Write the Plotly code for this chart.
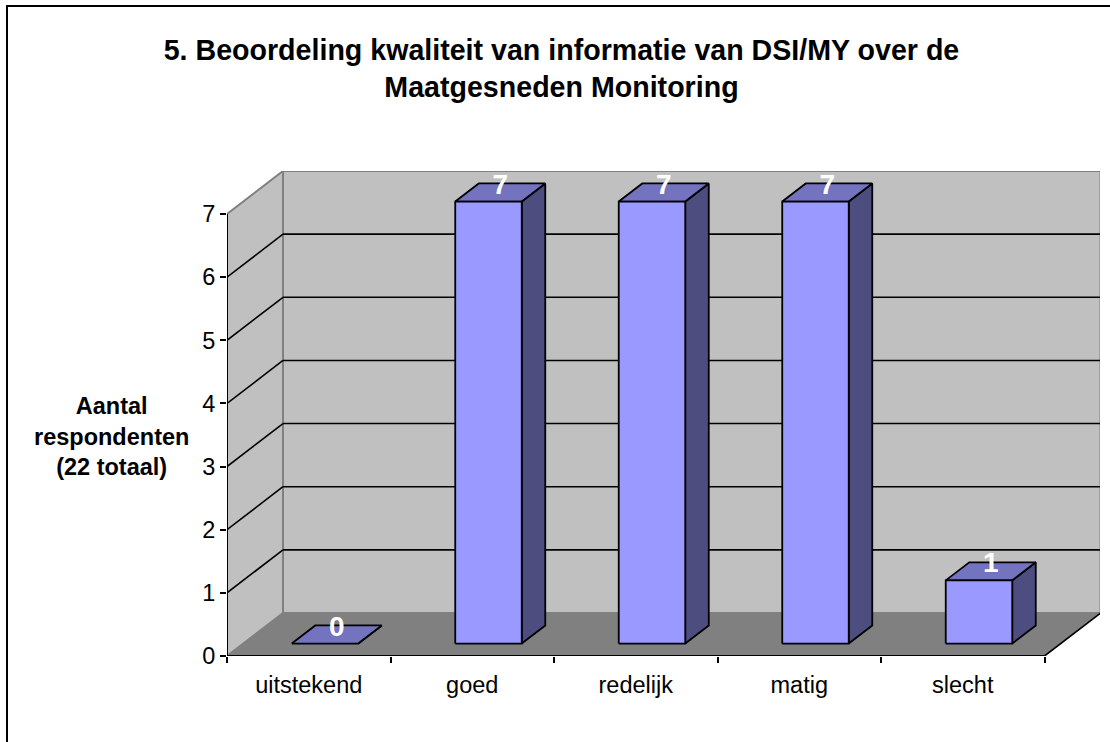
import plotly.graph_objects as go

categories = ["uitstekend", "goed", "redelijk", "matig", "slecht"]
values = [0, 7, 7, 7, 1]
y_ticks = [0, 1, 2, 3, 4, 5, 6, 7]
title_text = "5. Beoordeling kwaliteit van informatie van DSI/MY over de<br>Maatgesneden Monitoring"
axis_title = ["Aantal", "respondenten", "(22 totaal)"]

W, H = 1110, 742
L, R, T, B = 227, 1100, 171, 656
PX_X = (1044.5 - L) / 5
PX_Y = (B - 214) / 7
DX, DY = 56 / PX_X, 43 / PX_Y          # depth of the box in data units
XMIN, XMAX = -0.5, -0.5 + (R - L) / PX_X
YMIN, YMAX = 0, (B - T) / PX_Y
BAR_W = 66.5 / PX_X
D0, D1 = 0.29, 0.71                    # bar extent in depth
LABEL_LIFT = 6 / PX_Y

def P(x, y, d=0.0):
    return x + d * DX, y + d * DY

def poly(points, fill, line="black", lw=1.8):
    xs, ys = zip(*(points + points[:1]))
    return go.Scatter(x=xs, y=ys, mode="lines", fill="toself", fillcolor=fill,
                      line=dict(color=line, width=lw), hoverinfo="skip",
                      showlegend=False, cliponaxis=False)

def seg(a, b, color="black", lw=1.6):
    return go.Scatter(x=[a[0], b[0]], y=[a[1], b[1]], mode="lines",
                      line=dict(color=color, width=lw), hoverinfo="skip",
                      showlegend=False, cliponaxis=False)

xa, xb = -0.5, len(categories) - 0.5
top = max(y_ticks)
fig = go.Figure()
# walls and floor
fig.add_trace(poly([P(xa, 0), P(xa, 0, 1), P(xa, top, 1), P(xa, top)], "#C0C0C0", "#808080", 2))
fig.add_trace(poly([P(xa, 0, 1), P(xb, 0, 1), P(xb, top, 1), P(xa, top, 1)], "#C0C0C0", "#808080", 2))
fig.add_trace(poly([P(xa, 0), P(xb, 0), P(xb, 0, 1), P(xa, 0, 1)], "#808080", "#808080", 1))
# gridlines
for v in y_ticks[1:-1]:
    fig.add_trace(seg(P(xa, v), P(xa, v, 1)))
    fig.add_trace(seg(P(xa, v, 1), P(xb, v, 1)))
# axis lines
fig.add_trace(seg(P(xa, 0), P(xa, top), lw=2))
fig.add_trace(seg(P(xa, 0), P(xb, 0), lw=2))
fig.add_trace(seg(P(xb, 0), P(xb, 0, 1), lw=1.6))
# bars
for i, v in enumerate(values):
    a, b = i - BAR_W / 2, i + BAR_W / 2
    fig.add_trace(poly([P(b, 0, D0), P(b, 0, D1), P(b, v, D1), P(b, v, D0)], "#4D4D80"))
    fig.add_trace(poly([P(a, v, D0), P(b, v, D0), P(b, v, D1), P(a, v, D1)], "#7373BF"))
    if v > 0:
        fig.add_trace(poly([P(a, 0, D0), P(b, 0, D0), P(b, v, D0), P(a, v, D0)], "#9999FF"))
# value labels
lx, ly = zip(*(P(i, v, 0.5) for i, v in enumerate(values)))
fig.add_trace(go.Scatter(x=lx, y=[y + LABEL_LIFT for y in ly], mode="text", text=[str(v) for v in values],
                         textposition="middle center", cliponaxis=False,
                         textfont=dict(family="Liberation Sans", size=28, color="white", weight="bold"),
                         hoverinfo="skip", showlegend=False))

px = lambda p: (p - L) / (R - L)
py = lambda p: (B - p) / (B - T)
fig.update_layout(
    width=W, height=H, autosize=False,
    margin=dict(l=L, r=W - R, t=T, b=H - B),
    paper_bgcolor="white", plot_bgcolor="white", showlegend=False,
    font=dict(family="Liberation Sans", color="black"),
    title=dict(text=title_text, x=561.5 / W, xanchor="center", y=1 - 60 / H, yanchor="top",
               xref="container", yref="container",
               font=dict(family="Liberation Sans", size=28.6, color="black", weight="bold")),
    xaxis=dict(range=[XMIN, XMAX], tickmode="array", tickvals=list(range(len(categories))),
               ticktext=categories, ticks="", showgrid=False, zeroline=False, showline=False,
               tickfont=dict(size=23.5, color="black"), ticklabelstandoff=12,
               minor=dict(tickmode="array", tickvals=[i - 0.5 for i in range(len(categories) + 1)],
                          ticks="outside", ticklen=6, tickwidth=2, tickcolor="black", showgrid=False)),
    yaxis=dict(range=[YMIN, YMAX], tickmode="array", tickvals=y_ticks, ticks="outside",
               ticklen=6, tickwidth=2, tickcolor="black", showgrid=False, zeroline=False,
               showline=False, tickfont=dict(size=23.5, color="black")),
    annotations=[dict(text="<br>".join(axis_title), xref="paper", yref="paper",
                      x=px(111.5), y=py(436), xanchor="center", yanchor="middle", showarrow=False,
                      font=dict(size=23.5, color="black", weight="bold"), align="center")],
    shapes=[dict(type="rect", xref="paper", yref="paper", x0=px(7), x1=px(1120), y0=py(6), y1=py(760),
                 line=dict(color="black", width=2), fillcolor="rgba(0,0,0,0)", layer="below")],
)
fig.write_html("out.html", config=dict(displayModeBar=False),
               post_script="document.body.style.margin='0';document.body.style.overflow='hidden';")
